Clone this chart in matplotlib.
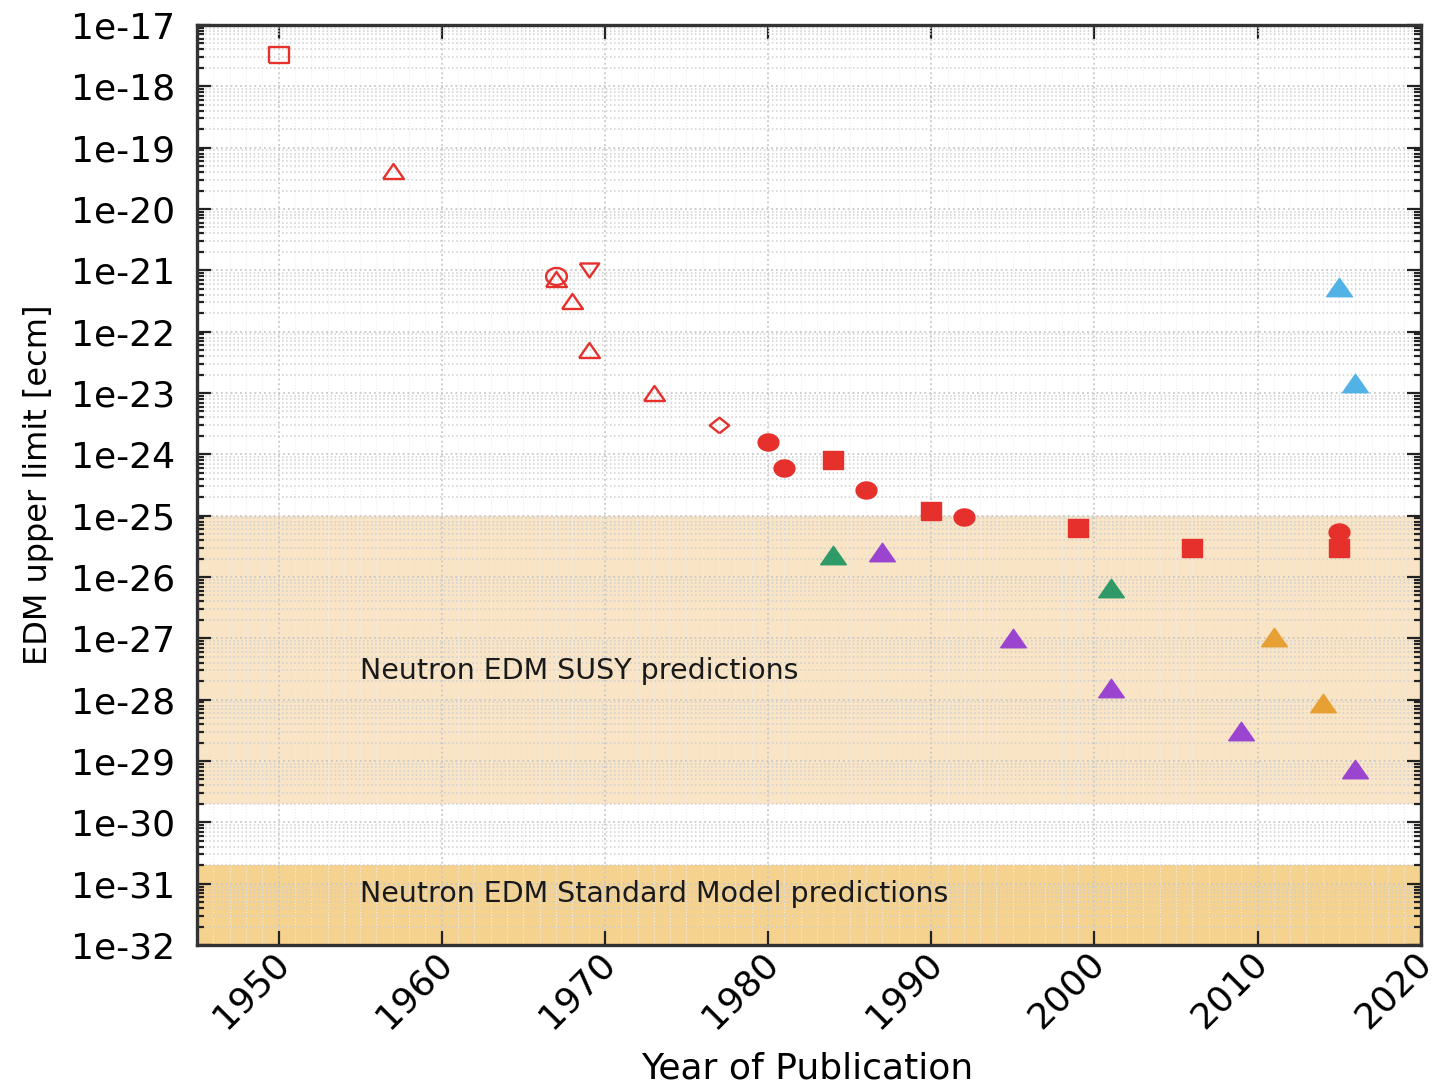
import numpy as np
import matplotlib.pyplot as plt
import matplotlib.transforms as mtransforms
from matplotlib.ticker import LogLocator, FixedLocator, NullFormatter, MultipleLocator

plt.rcParams['font.family'] = ['DejaVu Sans']

# data (year, EDM upper limit in e*cm)
open_sq_year = [1950]
open_sq_val = [3.2e-18]
open_tri_year = [1957, 1967, 1968, 1969, 1973]
open_tri_val = [4.2e-20, 7.2e-22, 3.2e-22, 5.1e-23, 1.0e-23]
open_circ_year = [1967]
open_circ_val = [8.0e-22]
open_dtri_year = [1969]
open_dtri_val = [1.0e-21]
open_dia_year = [1977]
open_dia_val = [3.0e-24]
red_circ_year = [1980, 1981, 1986, 1992, 2015]
red_circ_val = [1.6e-24, 5.9e-25, 2.6e-25, 9.6e-26, 5.5e-26]
red_sq_year = [1984, 1990, 1999, 2006, 2015]
red_sq_val = [8.0e-25, 1.2e-25, 6.3e-26, 3.0e-26, 3.0e-26]
green_year = [1984, 2001]
green_val = [2.3e-26, 6.7e-27]
purple_year = [1987, 1995, 2001, 2009, 2016]
purple_val = [2.6e-26, 1.0e-27, 1.55e-28, 3.1e-29, 7.4e-30]
orange_year = [2011, 2014]
orange_val = [1.07e-27, 8.8e-29]
blue_year = [2015, 2016]
blue_val = [5.3e-22, 1.45e-23]

susy_band = (2e-30, 1e-25)
sm_band = (1e-32, 2e-31)
decades = list(range(-32, -16))
year_ticks = list(range(1950, 2030, 10))

# slightly wide marker shapes (the picture is stretched sideways)
t = np.linspace(0, 2 * np.pi, 40)
ellipse = list(zip(np.cos(t), 0.82 * np.sin(t)))
rect = [(-1, -0.82), (1, -0.82), (1, 0.82), (-1, 0.82), (-1, -0.82)]
tri_up = [(-1, -0.72), (1, -0.72), (0, 0.72), (-1, -0.72)]
tri_dn = [(-1, 0.72), (1, 0.72), (0, -0.72), (-1, 0.72)]
diamond = [(0, -0.8), (1, 0), (0, 0.8), (-1, 0), (0, -0.8)]

red = '#e5302c'
fig = plt.figure(figsize=(14.35, 10.86), dpi=100)
ax = fig.add_axes([0.1373, 0.1298, 0.8527, 0.8472])

ax.axhspan(*susy_band, color='#f9e5c6', zorder=0.2, lw=0)
ax.axhspan(*sm_band, color='#f6d28f', zorder=0.2, lw=0)

# open (early) measurements
ax.plot(open_sq_year, open_sq_val, ls='none', marker=rect, ms=14, mfc='none', mec=red, mew=1.7)
ax.plot(open_tri_year, open_tri_val, ls='none', marker=tri_up, ms=15, mfc='none', mec=red, mew=1.7)
ax.plot(open_circ_year, open_circ_val, ls='none', marker=ellipse, ms=15, mfc='none', mec=red, mew=1.7)
ax.plot(open_dtri_year, open_dtri_val, ls='none', marker=tri_dn, ms=14, mfc='none', mec=red, mew=1.7)
ax.plot(open_dia_year, open_dia_val, ls='none', marker=diamond, ms=14, mfc='none', mec=red, mew=1.7)

# filled markers
ax.plot(red_circ_year, red_circ_val, ls='none', marker=ellipse, ms=15, color=red)
ax.plot(red_sq_year, red_sq_val, ls='none', marker=rect, ms=15, color=red)
ax.plot(green_year, green_val, ls='none', marker=tri_up, ms=18.5, color='#2f9a68')
ax.plot(purple_year, purple_val, ls='none', marker=tri_up, ms=18.5, color='#9a44d0')
ax.plot(orange_year, orange_val, ls='none', marker=tri_up, ms=18.5, color='#e6a033')
ax.plot(blue_year, blue_val, ls='none', marker=tri_up, ms=18.5, color='#52b2e6')

ax.text(1955, 2.9e-28, 'Neutron EDM SUSY predictions', fontsize=20.5, color='#1a1a1a', va='center')
ax.text(1955, 6.9e-32, 'Neutron EDM Standard Model predictions', fontsize=20.5, color='#1a1a1a', va='center')

ax.set_yscale('log')
ax.set_xlim(1945, 2020)
ax.set_ylim(1e-32, 1e-17)
ax.yaxis.set_major_locator(FixedLocator([10.0 ** d for d in decades]))
ax.set_yticklabels(['1e%d' % d for d in decades])
ax.yaxis.set_minor_locator(LogLocator(base=10, subs=np.arange(2, 10), numticks=100))
ax.yaxis.set_minor_formatter(NullFormatter())
ax.set_xticks(year_ticks)
ax.xaxis.set_minor_locator(MultipleLocator(1))

ax.set_axisbelow(True)
ax.grid(which='major', color='#c8c8c8', ls=':', lw=1.3)
ax.grid(which='minor', axis='y', color='#cfcfcf', ls=':', lw=1.1)
ax.grid(which='minor', axis='x', color='#eeeeee', ls=':', lw=0.8)

ax.tick_params(which='both', direction='in', top=True, right=True, width=1.6, color='#222222')
ax.tick_params(which='major', length=10, labelsize=26, pad=16)
ax.tick_params(which='minor', axis='y', length=5)
ax.tick_params(which='minor', axis='x', length=0)
ax.tick_params(axis='x', pad=9)
shift = mtransforms.ScaledTranslation(0.05, 0, fig.dpi_scale_trans)
for lab in ax.get_xticklabels():
    lab.set_rotation(45)
    lab.set_ha('right')
    lab.set_va('center')
    lab.set_rotation_mode('anchor')
    lab.set_transform(lab.get_transform() + shift)

for s in ax.spines.values():
    s.set_linewidth(2.4)
    s.set_color('#333333')

ax.set_ylabel('EDM upper limit [ecm]', fontsize=23)
ax.yaxis.set_label_coords(-0.117, 0.5)
ax.set_xlabel('Year of Publication', fontsize=26)
ax.xaxis.set_label_coords(0.499, -0.134)
ax.xaxis.label.set_va('center')

plt.savefig('out.png', dpi=100)
plt.close()
